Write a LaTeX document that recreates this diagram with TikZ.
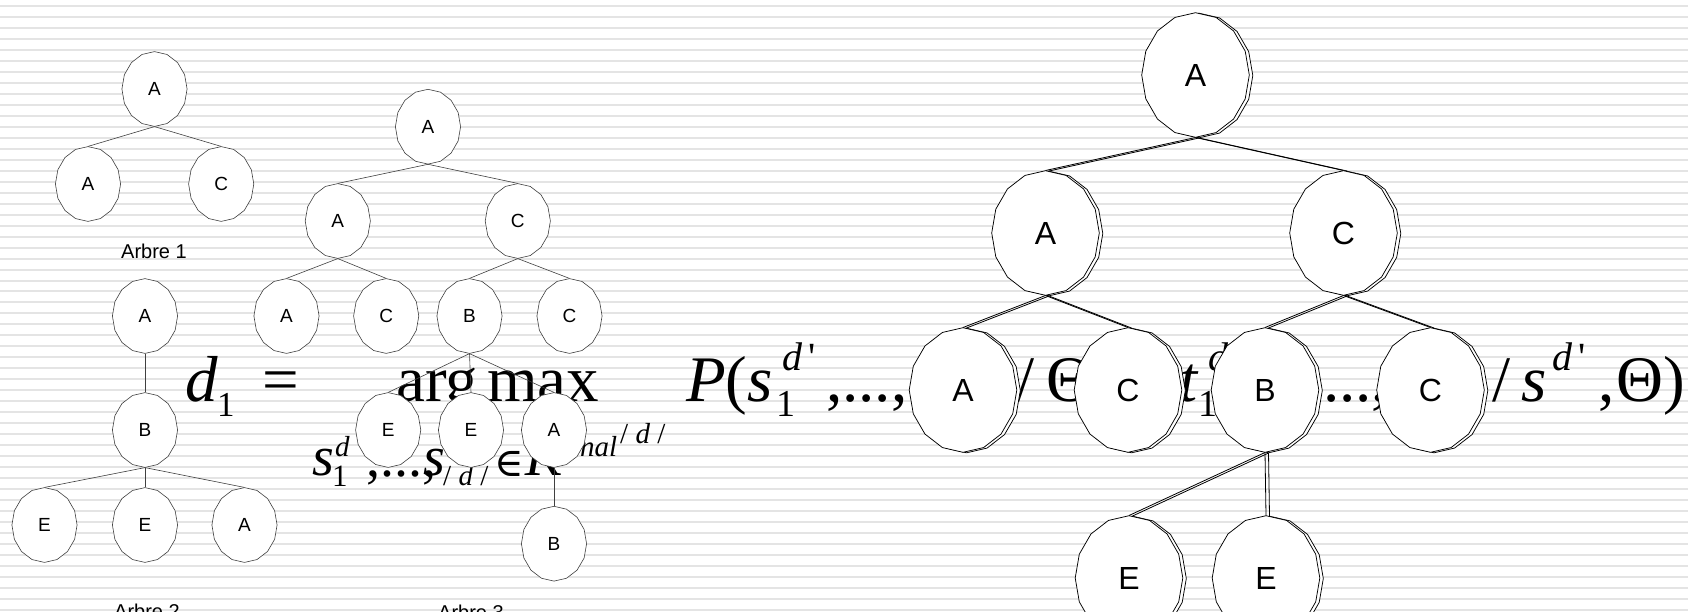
\documentclass[tikz,border=0pt]{standalone}
\usepackage{fontspec}
\setmainfont{Liberation Serif}
\newfontfamily\arialfont{Liberation Sans}
\newfontfamily\symbfont{DejaVu Serif}
\usetikzlibrary{shapes.geometric}

\definecolor{stripegray}{RGB}{228,228,228}

\tikzset{
  smallnode/.style={ellipse, draw=none, fill=none,
    minimum width=65.2pt, minimum height=74.8pt, inner sep=0pt,
    font=\arialfont\fontsize{19}{19}\selectfont},
  bignode/.style={ellipse, draw=none, fill=none,
    minimum width=107.6pt, minimum height=124.6pt, inner sep=0pt,
    font=\arialfont\fontsize{32}{32}\selectfont},
  smallface/.style={fill=white, draw=black!75, line width=0.6pt, line join=round},
  bigface/.style={fill=white, draw=black, line width=0.75pt, line join=round},
  smalledge/.style={draw=black!75, line width=0.6pt},
  bigedge/.style={draw=black, line width=0.8pt},
  caption/.style={inner sep=0pt, anchor=base, font=\arialfont\fontsize{20}{20}\selectfont},
  fml/.style={inner sep=0pt, anchor=base west, font=\fontsize{65}{65}\selectfont},
  fmlsub/.style={inner sep=0pt, anchor=base west, font=\fontsize{38}{38}\selectfont},
  fmlsup/.style={inner sep=0pt, anchor=base west, font=\fontsize{40}{40}\selectfont},
  fmls/.style={inner sep=0pt, anchor=base west, font=\fontsize{56}{56}\selectfont},
  fmlss/.style={inner sep=0pt, anchor=base west, font=\fontsize{29}{29}\selectfont},
}

% sixteen-sided white disc with its label node on top
% #1 name, #2 position, #3 label
\newcommand\smallvertex[3]{%
  \filldraw[smallface, shift={(#2)}]
    plot[samples=17, domain=90:450] ({32.6*cos(\x)},{37.4*sin(\x)}) -- cycle;
  \node[smallnode] (#1) at (#2) {#3};}
\newcommand\bigvertex[3]{%
  \filldraw[bigface, shift={(#2)}]
    plot[samples=17, domain=90:450] ({53.8*cos(\x)},{62.3*sin(\x)}) -- cycle;
  \node[bignode] (#1) at (#2) {#3};}

% one copy of the large tree; node names get the given prefix
\newcommand\drawbigtree[1]{%
  \bigvertex{#1a}{1195.5,75}{A}
  \bigvertex{#1b}{1045.5,233}{A}
  \bigvertex{#1c}{1343.5,233}{C}
  \bigvertex{#1d}{963,390}{A}
  \bigvertex{#1e}{1128,390}{C}
  \bigvertex{#1f}{1265,390}{B}
  \bigvertex{#1g}{1430.5,390}{C}
  \bigvertex{#1h}{1129,578}{E}
  \bigvertex{#1i}{1266,578}{E}
  \draw[bigedge] (#1a.south) -- (#1b.north);
  \draw[bigedge] (#1a.south) -- (#1c.north);
  \draw[bigedge] (#1b.south) -- (#1d.north);
  \draw[bigedge] (#1b.south) -- (#1e.north);
  \draw[bigedge] (#1c.south) -- (#1f.north);
  \draw[bigedge] (#1c.south) -- (#1g.north);
  \draw[bigedge] (#1f.south) -- (#1h.north);
  \draw[bigedge] (#1f.south) -- (#1i.north);
}

\begin{document}
\begin{tikzpicture}[x=1pt, y=-1pt]
\useasboundingbox (0,0) rectangle (1688,611);
\clip (0,0) rectangle (1688,611);
\fill[white] (0,0) rectangle (1688,611);

% ruled background
\foreach \k in {0,...,55}
  \fill[stripegray] (0,{5+10.98*\k}) rectangle (1688,{7+10.98*\k});

% ---- formula ----
\node[fml] (fd) at (185,401) {\itshape d};
\node[fmlsub] (fd1) at (217,416) {\fontsize{35}{35}\selectfont 1};
\node[fml] (feq) at (262,401) {=};
\node[fml] (farg) at (396,401) {arg\hspace{9pt}max};
\node[fml] (fP) at (686,401) {\itshape P\upshape(\itshape s};
\node[fmlsub] (fPs1) at (776,416) {1};
\node[fmlsup] (fPsd) at (782,370) {\itshape d\upshape\,\textquotesingle};
\node[fml] (fc1) at (826,401) {,...,};
\node[fml] (fsl1) at (1016,401) {/};
\node[fml] (fth1) at (1046,401) {Θ};
\node[fml] (ft) at (1179,401) {\itshape t};
\node[fmlsub] (ft1) at (1198,416) {1};
\node[fmlsup] (ftd) at (1208,370) {\itshape d\upshape\,\textquotesingle};
\node[fml] (fdots) at (1323,401) {...,};
\node[fml] (fsl2) at (1492,401) {/};
\node[fml] (fs) at (1521,401) {\itshape s};
\node[fmlsup] (fsd) at (1552,370) {\itshape d\upshape\,\textquotesingle};
\node[fml] (fcm) at (1598,401) {,};
\node[fml] (fth2) at (1616,401) {Θ)};

\node[fmls] (gs) at (312,475) {\itshape s};
\node[fmlss] (gs1) at (332,486) {\fontsize{31}{31}\selectfont 1};
\node[fmlss] (gsd) at (335,456) {\itshape d};
\node[fmls] (gc) at (366,476) {,...,};
\node[fmls] (gs2) at (423,475) {\itshape s};
\node[fmlss] (gsd2) at (443,485) {/ \itshape d\upshape{} /};
\node[inner sep=0pt, anchor=base west, font=\symbfont\fontsize{40}{40}\selectfont] (gin) at (494,476) {∈};
\node[fmls] (gK) at (525,475) {\itshape K};
\node[fmlss] (gnal) at (580,456) {\itshape nal};
\node[fmlss] (gdd) at (620,443) {/ \itshape d\upshape{} /};

% ---- Arbre 1 ----
\smallvertex{t1a}{154.5,89}{A}
\smallvertex{t1b}{88,184}{A}
\smallvertex{t1c}{221.2,184}{C}
\draw[smalledge] (t1a.south) -- (t1b.north);
\draw[smalledge] (t1a.south) -- (t1c.north);
\node[caption] (cap1) at (154,258.5) {Arbre 1};

% ---- Arbre 2 ----
\smallvertex{t2a}{145,316}{A}
\smallvertex{t2b}{145,430}{B}
\smallvertex{t2c}{44.5,525}{E}
\smallvertex{t2d}{145,525}{E}
\smallvertex{t2e}{244.5,525}{A}
\draw[smalledge] (t2a.south) -- (t2b.north);
\draw[smalledge] (t2b.south) -- (t2c.north);
\draw[smalledge] (t2b.south) -- (t2d.north);
\draw[smalledge] (t2b.south) -- (t2e.north);
\node[caption] (cap2) at (147,618) {Arbre 2};

% ---- Arbre 3 ----
\smallvertex{t3a}{428,126.7}{A}
\smallvertex{t3b}{337.8,221}{A}
\smallvertex{t3c}{517.8,221}{C}
\smallvertex{t3d}{286.5,316}{A}
\smallvertex{t3e}{386.2,316}{C}
\smallvertex{t3f}{469.5,316}{B}
\smallvertex{t3g}{569.5,316}{C}
\smallvertex{t3h}{388.2,430}{E}
\smallvertex{t3i}{471,430}{E}
\smallvertex{t3j}{554,430}{A}
\smallvertex{t3k}{554,543.7}{B}
\draw[smalledge] (t3a.south) -- (t3b.north);
\draw[smalledge] (t3a.south) -- (t3c.north);
\draw[smalledge] (t3b.south) -- (t3d.north);
\draw[smalledge] (t3b.south) -- (t3e.north);
\draw[smalledge] (t3c.south) -- (t3f.north);
\draw[smalledge] (t3c.south) -- (t3g.north);
\draw[smalledge] (t3f.south) -- (t3h.north);
\draw[smalledge] (t3f.south) -- (t3i.north);
\draw[smalledge] (t3f.south) -- (t3j.north);
\draw[smalledge] (t3j.south) -- (t3k.north);
\node[caption] (cap3) at (471,619.5) {Arbre 3};

% ---- large tree: offset back copy, then front copy ----
\begin{scope}[shift={(3.5,0.5)}]
  \drawbigtree{back}
\end{scope}
\drawbigtree{front}
\end{tikzpicture}
\end{document}
